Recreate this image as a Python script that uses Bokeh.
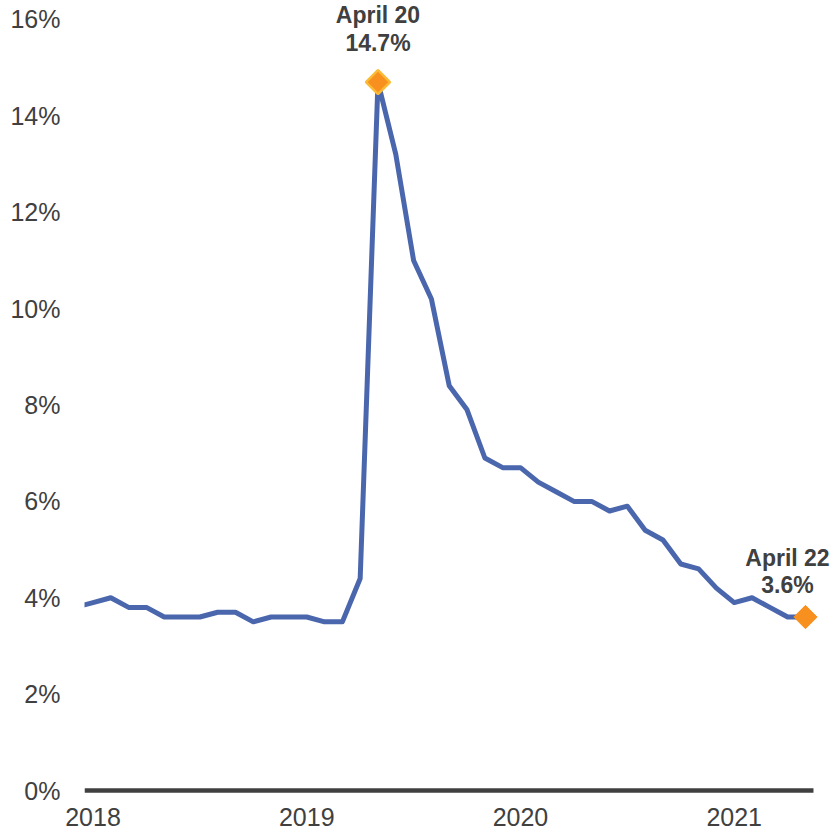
import numpy as np
from bokeh.plotting import figure
from bokeh.models import FixedTicker
from bokeh.core.properties import value
from bokeh.embed import file_html
from bokeh.resources import INLINE

# ---- data ----
months = ["2018-11", "2018-12",
          "2019-01", "2019-02", "2019-03", "2019-04", "2019-05", "2019-06",
          "2019-07", "2019-08", "2019-09", "2019-10", "2019-11", "2019-12",
          "2020-01", "2020-02", "2020-03", "2020-04", "2020-05", "2020-06",
          "2020-07", "2020-08", "2020-09", "2020-10", "2020-11", "2020-12",
          "2021-01", "2021-02", "2021-03", "2021-04", "2021-05", "2021-06",
          "2021-07", "2021-08", "2021-09", "2021-10", "2021-11", "2021-12",
          "2022-01", "2022-02", "2022-03", "2022-04"]
rate = [3.8, 3.9,
        4.0, 3.8, 3.8, 3.6, 3.6, 3.6, 3.7, 3.7, 3.5, 3.6, 3.6, 3.6,
        3.5, 3.5, 4.4, 14.7, 13.2, 11.0, 10.2, 8.4, 7.9, 6.9, 6.7, 6.7,
        6.4, 6.2, 6.0, 6.0, 5.8, 5.9, 5.4, 5.2, 4.7, 4.6, 4.2, 3.9,
        4.0, 3.8, 3.6, 3.6]
tick_months = ["2018-12", "2019-12", "2020-12", "2021-12"]
tick_labels = ["2018", "2019", "2020", "2021"]
y_ticks = [0, 2, 4, 6, 8, 10, 12, 14, 16]
highlight_months = ["2020-04", "2022-04"]
highlight_names = ["April 20", "April 22"]


def month_index(m):
    y, mo = m.split("-")
    return (int(y) - 2019) * 12 + (int(mo) - 1)


x = [month_index(m) for m in months]
hx = [month_index(m) for m in highlight_months]
hy = [rate[months.index(m)] for m in highlight_months]
hval = [f"{v:.1f}%" for v in hy]
xt = [month_index(m) for m in tick_months]

FONT = "Liberation Sans"
TXT = "#404040"
X0, X1 = -1.477, 40.63

p = figure(width=834, height=836, output_backend="svg", toolbar_location=None,
           x_range=(X0, X1), y_range=(-0.062, 16.394),
           min_border_left=84, min_border_right=0, min_border_top=0,
           min_border_bottom=43)
p.outline_line_color = None
p.xgrid.grid_line_color = None
p.ygrid.grid_line_color = None
p.background_fill_color = "white"

# y axis
p.yaxis.ticker = FixedTicker(ticks=y_ticks)
p.yaxis.major_label_overrides = {t: f"{t}%" for t in y_ticks}
p.yaxis.axis_line_color = None
p.yaxis.major_tick_line_color = None
p.yaxis.minor_tick_line_color = None
p.yaxis.major_tick_out = 0
p.yaxis.major_tick_in = 0
p.yaxis.major_label_standoff = 24
p.yaxis.major_label_text_font = FONT
p.yaxis.major_label_text_font_size = "25px"
p.yaxis.major_label_text_color = TXT

# x axis (years)
p.xaxis.ticker = FixedTicker(ticks=xt)
p.xaxis.major_label_overrides = {t: l for t, l in zip(xt, tick_labels)}
p.xaxis.axis_line_color = None
p.xaxis.major_tick_line_color = None
p.xaxis.minor_tick_line_color = None
p.xaxis.major_tick_out = 0
p.xaxis.major_tick_in = 0
p.xaxis.major_label_standoff = 14
p.xaxis.major_label_text_font = FONT
p.xaxis.major_label_text_font_size = "25px"
p.xaxis.major_label_text_color = TXT

# zero baseline
p.segment(x0=[X0], y0=[0], x1=[39.45], y1=[0], line_color=TXT, line_width=4.5)

# series
p.line(x, rate, line_color="#4A66AC", line_width=5, line_join="round")

# highlight markers
p.scatter([hx[0]], [hy[0]], marker="square", size=17, angle=np.pi / 4,
          fill_color="#F7901E", line_color="#FBBA35", line_width=2.5)
p.scatter([hx[1]], [hy[1]], marker="square", size=16.5, angle=np.pi / 4,
          fill_color="#F7901E", line_color="#F7901E", line_width=1)

# annotations
xoffs = [0, -18]
name_offs = [-67, -59]
val_offs = [-39, -32]
for i in range(2):
    p.text([hx[i]], [hy[i]], text=[highlight_names[i]], x_offset=xoffs[i],
           y_offset=name_offs[i], text_align="center", text_baseline="alphabetic",
           text_font=value(FONT), text_font_style="bold", text_font_size="23px",
           text_color=TXT)
    p.text([hx[i]], [hy[i]], text=[hval[i]], x_offset=xoffs[i],
           y_offset=val_offs[i], text_align="center", text_baseline="alphabetic",
           text_font=value(FONT), text_font_style="bold", text_font_size="23px",
           text_color=TXT)

open("out.html", "w").write(file_html(p, INLINE))
